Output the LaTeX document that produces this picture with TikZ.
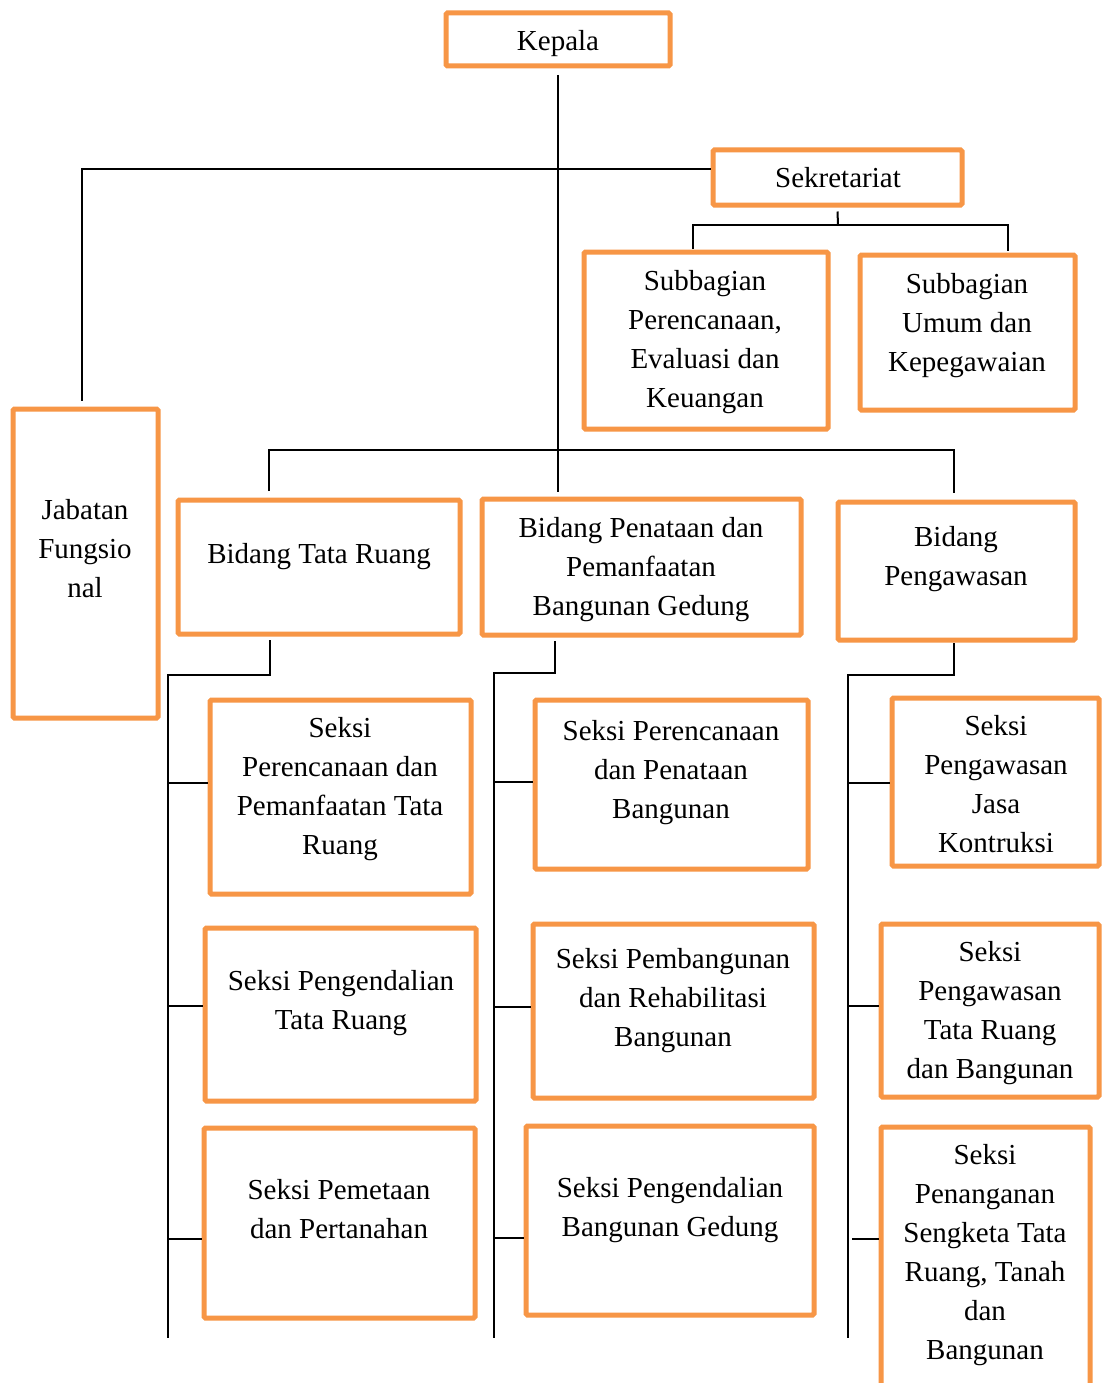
\documentclass[tikz,border=0pt]{standalone}
\usepackage{fontspec}
\setmainfont{Liberation Serif}
\definecolor{boxorange}{HTML}{F79646}
\tikzset{
  box/.style={draw=boxorange, line width=5pt, rounded corners=1.5pt, inner sep=0pt},
  txt/.style={font=\fontsize{29}{39}\selectfont, align=center, anchor=base, inner sep=0pt},
  conn/.style={draw=black, line width=2pt}
}
\newcommand\obox[5]{\node[box, minimum width={#4-#2}, minimum height={#5-#3}] (#1) at ({(#2+#4)/2},{(#3+#5)/2}) {};}
\begin{document}
\begin{tikzpicture}[x=1pt,y=-1pt]
\clip (0,0) rectangle (1103,1383);
\fill[white] (0,0) rectangle (1103,1383);
% boxes
\obox{kepala}{446}{13}{670}{66}
\obox{sek}{713}{150}{962}{205}
\obox{sp}{584}{252}{828}{429}
\obox{su}{860}{255}{1075}{410}
\obox{jab}{13}{409}{158}{718}
\obox{btr}{178}{500}{460}{634}
\obox{bpp}{482}{499}{801}{635}
\obox{bpg}{838}{502}{1075}{640}
\obox{sa}{210}{700}{471}{894}
\obox{sb}{205}{928}{476}{1101}
\obox{sc}{204}{1128}{475}{1318}
\obox{sd}{535}{700}{808}{869}
\obox{se}{533}{924}{814}{1098}
\obox{sf}{526}{1126}{814}{1315}
\obox{sg}{892}{698}{1099}{866}
\obox{sh}{881}{924}{1099}{1097}
\obox{si}{881}{1127}{1090}{1420}
% texts (anchor = baseline of last line)
\node[txt] (tkepala) at (558,51) {Kepala};
\node[txt] (tsek) at (838,188) {Sekretariat};
\node[txt] (tsp) at (705,407) {Subbagian\\Perencanaan,\\Evaluasi dan\\Keuangan};
\node[txt] (tsu) at (967,371) {Subbagian\\Umum dan\\Kepegawaian};
\node[txt] (tjab) at (85,597) {Jabatan\\Fungsio\\nal};
\node[txt] (tbtr) at (319,563) {Bidang Tata Ruang};
\node[txt] (tbpp) at (641,615) {Bidang Penataan dan\\Pemanfaatan\\Bangunan Gedung};
\node[txt] (tbpg) at (956,585) {Bidang\\Pengawasan};
\node[txt] (tsa) at (340,854) {Seksi\\Perencanaan dan\\Pemanfaatan Tata\\Ruang};
\node[txt] (tsb) at (341,1029) {Seksi Pengendalian\\Tata Ruang};
\node[txt] (tsc) at (339,1238) {Seksi Pemetaan\\dan Pertanahan};
\node[txt] (tsd) at (671,818) {Seksi Perencanaan\\dan Penataan\\Bangunan};
\node[txt] (tse) at (673,1046) {Seksi Pembangunan\\dan Rehabilitasi\\Bangunan};
\node[txt] (tsf) at (670,1236) {Seksi Pengendalian\\Bangunan Gedung};
\node[txt] (tsg) at (996,852) {Seksi\\Pengawasan\\Jasa\\Kontruksi};
\node[txt] (tsh) at (990,1078) {Seksi\\Pengawasan\\Tata Ruang\\dan Bangunan};
\node[txt] (tsi) at (985,1359) {Seksi\\Penanganan\\Sengketa Tata\\Ruang, Tanah\\dan\\Bangunan};
% junction coordinates
\coordinate (trunkTop) at (557.5,75);
\coordinate (trunkBot) at (557.5,492);
\coordinate (jabTop) at (82,401);
\coordinate (sekJ) at (838,225);
\coordinate (spTop) at (693,249);
\coordinate (suTop) at (1008,251);
\coordinate (bR) at (954,450);
\coordinate (btrTop) at (269,491);
\coordinate (bpgTop) at (954,493);
\coordinate (c1a) at (270,640);
\coordinate (c1b) at (270,675);
\coordinate (c1c) at (168,675);
\coordinate (c1d) at (168,1338);
\coordinate (c2a) at (555,641);
\coordinate (c2b) at (555,673);
\coordinate (c2c) at (494,673);
\coordinate (c2d) at (494,1338);
\coordinate (c3a) at (954,643);
\coordinate (c3b) at (954,675);
\coordinate (c3c) at (848,675);
\coordinate (c3d) at (848,1338);
% connectors
\draw[conn] (trunkTop) -- (trunkBot);
\draw[conn] (sek.west |- 0,169) -- (82,169) -- (jabTop);
\draw[conn] ([yshift=-4pt]sek.south) -- (sekJ);
\draw[conn] (spTop) |- (sekJ) -| (suTop);
\draw[conn] (btrTop) |- (bR) -- (bpgTop);
\draw[conn] (c1a) -- (c1b) -- (c1c) -- (c1d);
\draw[conn] (c2a) -- (c2b) -- (c2c) -- (c2d);
\draw[conn] (c3a) -- (c3b) -- (c3c) -- (c3d);
\draw[conn] (168,783) -- (sa.west |- 0,783);
\draw[conn] (168,1006) -- (sb.west |- 0,1006);
\draw[conn] (168,1239) -- (sc.west |- 0,1239);
\draw[conn] (494,782) -- (sd.west |- 0,782);
\draw[conn] (494,1007) -- (se.west |- 0,1007);
\draw[conn] (494,1238) -- (sf.west |- 0,1238);
\draw[conn] (848,783) -- (sg.west |- 0,783);
\draw[conn] (848,1006) -- (sh.west |- 0,1006);
\draw[conn] (852,1239) -- (si.west |- 0,1239);
\end{tikzpicture}
\end{document}
